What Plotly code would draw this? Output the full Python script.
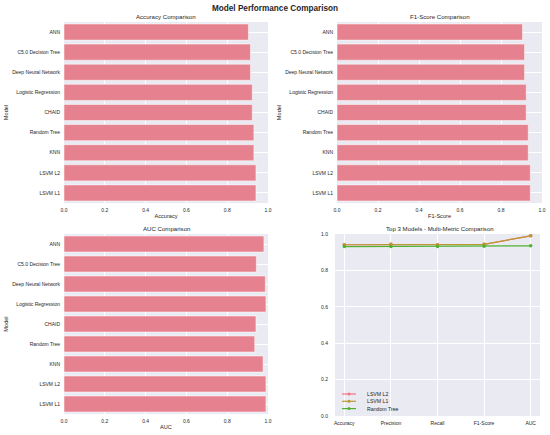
import plotly.graph_objects as go
from plotly.subplots import make_subplots

models = ["ANN", "C5.0 Decision Tree", "Deep Neural Network", "Logistic Regression",
          "CHAID", "Random Tree", "KNN", "LSVM L2", "LSVM L1"]
accuracy = [0.904, 0.914, 0.914, 0.923, 0.923, 0.931, 0.931, 0.941, 0.941]
f1_score = [0.905, 0.915, 0.915, 0.923, 0.923, 0.933, 0.933, 0.943, 0.943]
auc = [0.980, 0.943, 0.987, 0.990, 0.941, 0.935, 0.976, 0.990, 0.990]

metrics = ["Accuracy", "Precision", "Recall", "F1-Score", "AUC"]
lsvm_l2 = [0.941, 0.943, 0.941, 0.943, 0.990]
lsvm_l1 = [0.941, 0.943, 0.941, 0.943, 0.990]
random_tree = [0.931, 0.932, 0.931, 0.933, 0.935]
top3 = [("LSVM L2", lsvm_l2, "#F77189"),
        ("LSVM L1", lsvm_l1, "#BB9832"),
        ("Random Tree", random_tree, "#50B131")]

BAR_COLOR = "#E6828F"
BG = "#EAEAF2"
FONT = "Liberation Sans, Arial, sans-serif"
TXT = "#262626"
W, H = 550, 435

fig = make_subplots(rows=2, cols=2)

for vals, (r, c) in [(accuracy, (1, 1)), (f1_score, (1, 2)), (auc, (2, 1))]:
    fig.add_trace(go.Bar(x=vals, y=models, orientation="h", width=0.8,
                         marker=dict(color=BAR_COLOR, line=dict(color="white", width=0.5)),
                         showlegend=False), row=r, col=c)

for name, vals, col in top3:
    fig.add_trace(go.Scatter(x=metrics, y=vals, name=name, mode="lines+markers",
                             line=dict(color=col, width=1.2),
                             marker=dict(color=col, size=3.5), showlegend=False), row=2, col=2)

axis_common = dict(showline=False, zeroline=False, gridcolor="white", gridwidth=0.8,
                   tickfont=dict(size=5.0, color=TXT), ticks="", automargin=False,
                   title_font=dict(size=5.6, color=TXT))
xax = dict(ticklabelstandoff=3, title_standoff=2, **axis_common)
yax = dict(ticklabelstandoff=3, title_standoff=3, **axis_common)

x1 = [64 / W, 268 / W]
x2 = [337 / W, 542 / W]
x4 = [335 / W, 540 / W]
ytop = [1 - 203 / H, 1 - 22 / H]
ybot = [1 - 414 / H, 1 - 234 / H]
y4 = [1 - 416 / H, 1 - 234 / H]

fig.update_layout(
    xaxis=dict(domain=x1, range=[0, 1], dtick=0.2, tickformat=".1f", title_text="Accuracy", **xax),
    yaxis=dict(domain=ytop, autorange="reversed", title_text="Model", **yax),
    xaxis2=dict(domain=x2, range=[0, 1], dtick=0.2, tickformat=".1f", title_text="F1-Score", **xax),
    yaxis2=dict(domain=ytop, autorange="reversed", title_text="Model", **yax),
    xaxis3=dict(domain=x1, range=[0, 1], dtick=0.2, tickformat=".1f", title_text="AUC", **xax),
    yaxis3=dict(domain=ybot, autorange="reversed", title_text="Model", **yax),
    xaxis4=dict(domain=x4, range=[-0.2, 4.2], **xax),
    yaxis4=dict(domain=y4, range=[0, 1], dtick=0.2, tickformat=".1f",
                **{**yax, "ticklabelstandoff": 6}),
)

fig.update_layout(
    width=W, height=H,
    margin=dict(l=0, r=0, t=0, b=0),
    paper_bgcolor="white", plot_bgcolor=BG,
    font=dict(family=FONT, color=TXT),
    showlegend=False,
    title=dict(text="<b>Model Performance Comparison</b>", x=0.5, xanchor="center",
               y=1 - 8 / H, yanchor="middle", font=dict(size=8.2, color=TXT)),
)

for text, xc, yc in [("Accuracy Comparison", 166, 16), ("F1-Score Comparison", 440, 16),
                     ("AUC Comparison", 166, 228), ("Top 3 Models - Multi-Metric Comparison", 440, 228)]:
    fig.add_annotation(text=text, x=xc / W, y=1 - yc / H, xref="paper", yref="paper",
                       showarrow=False, font=dict(size=6.1, color=TXT),
                       xanchor="center", yanchor="middle")

# legend drawn by hand (plotly's legend rows can't get this tight)
for i, (name, vals, col) in enumerate(top3):
    ly = 1 - (394 + i * 7.3) / H
    fig.add_shape(type="line", xref="paper", yref="paper", x0=342 / W, x1=356 / W, y0=ly, y1=ly,
                  line=dict(color=col, width=1.2))
    fig.add_shape(type="circle", xref="paper", yref="paper", x0=347.5 / W, x1=350.5 / W,
                  y0=ly - 1.5 / H, y1=ly + 1.5 / H, fillcolor=col, line=dict(width=0))
    fig.add_annotation(text=name, x=365 / W, y=ly, xref="paper", yref="paper", xanchor="left",
                       yanchor="middle", showarrow=False, font=dict(size=5.2, color=TXT))

# page body has an 8px default margin; drop it so the figure sits at 0,0
fig.write_html("out.html", config={"displayModeBar": False},
               post_script="document.body.style.margin='0';")
